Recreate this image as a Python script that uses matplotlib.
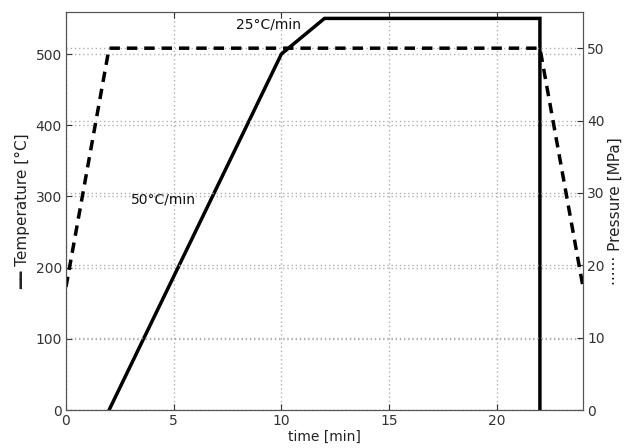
import matplotlib
matplotlib.use("Agg")
import matplotlib.pyplot as plt

time_temp = [2, 10, 12, 22, 22]
temperature = [0, 500, 550, 550, 0]
time_pres = [0, 2, 22, 24]
pressure = [17, 50, 50, 17]

plt.rcParams['font.family'] = ['DejaVu Sans']
fig = plt.figure(figsize=(6.24, 4.48), dpi=100)
ax = fig.add_axes([66/624, 38/448, 517/624, 398/448])
ax2 = ax.twinx()

ax.plot(time_temp, temperature, color='black', lw=2.5, solid_joinstyle='miter')
ax2.plot(time_pres, pressure, color='black', lw=2.5, ls=(0, (3, 2)))

ax.set_xlim(0, 24)
ax.set_ylim(0, 559)
ax2.set_ylim(0, 55)
ax.set_xticks([0, 5, 10, 15, 20])
ax.set_yticks([0, 100, 200, 300, 400, 500])
ax2.set_yticks([0, 10, 20, 30, 40, 50])

for a in (ax, ax2):
    a.grid(True, ls=(0, (1, 2)), color='#b0b0b0', lw=1)
    a.tick_params(direction='in', labelsize=10, colors='#333333', length=4, pad=3)
    for s in a.spines.values():
        s.set_color('#555555')
ax.tick_params(top=True)
ax.set_axisbelow(True)
ax2.set_axisbelow(True)

ax.set_xlabel('time [min]', fontsize=10, color='#222222', labelpad=1)
ax.set_ylabel('━━ Temperature [°C]', fontsize=11, color='#222222', labelpad=4)
ax2.set_ylabel('······ Pressure [MPa]', fontsize=11, color='#222222', rotation=90, labelpad=2)

ax.text(9.4, 541, '25°C/min', fontsize=10, ha='center', va='center', color='#111111')
ax.text(4.5, 296, '50°C/min', fontsize=10, ha='center', va='center', color='#111111')

fig.savefig('out.png', dpi=100)
